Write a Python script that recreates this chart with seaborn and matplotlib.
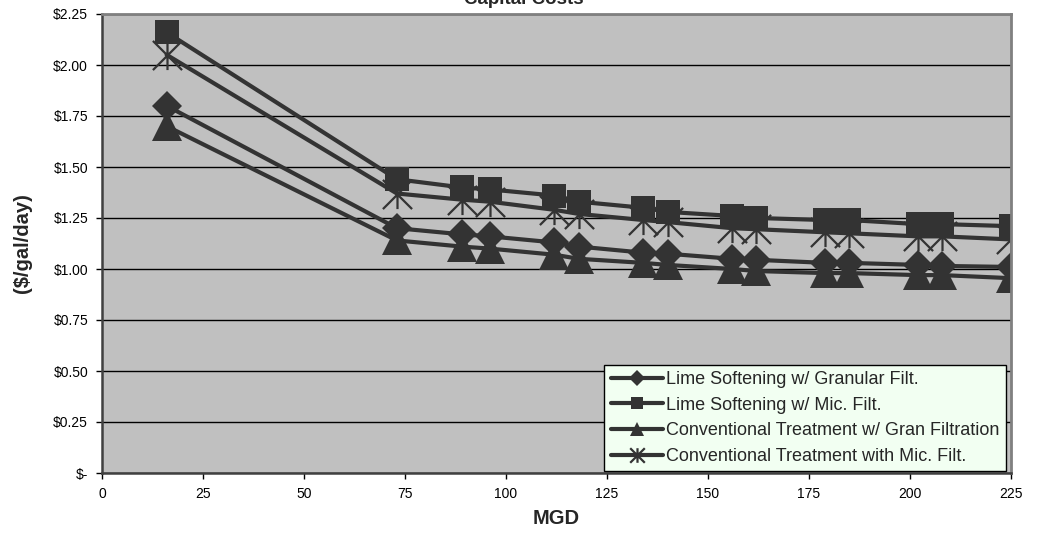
import numpy as np
import pandas as pd
import matplotlib
matplotlib.use("Agg")
import matplotlib.pyplot as plt
from matplotlib.path import Path
import seaborn as sns

# --- DATA ---
MGD = [16, 73, 89, 96, 112, 118, 134, 140, 156, 162, 179, 185, 202, 208, 225]

LIME_GRAN = [1.80, 1.20, 1.17, 1.16, 1.13, 1.11, 1.08, 1.075, 1.05, 1.045, 1.03, 1.03, 1.02, 1.015, 1.01]
LIME_MIC = [2.16, 1.44, 1.40, 1.39, 1.36, 1.33, 1.30, 1.28, 1.26, 1.25, 1.24, 1.24, 1.22, 1.22, 1.21]
CONV_GRAN = [1.70, 1.14, 1.11, 1.10, 1.07, 1.05, 1.03, 1.02, 1.00, 0.99, 0.98, 0.98, 0.97, 0.97, 0.955]
CONV_MIC = [2.05, 1.37, 1.34, 1.33, 1.29, 1.27, 1.24, 1.23, 1.20, 1.195, 1.18, 1.175, 1.16, 1.16, 1.145]

SERIES_NAMES = [
    "Lime Softening w/ Granular Filt.",
    "Lime Softening w/ Mic. Filt.",
    "Conventional Treatment w/ Gran Filtration",
    "Conventional Treatment with Mic. Filt.",
]

Y_TICKS = [0, 0.25, 0.5, 0.75, 1.0, 1.25, 1.5, 1.75, 2.0, 2.25]
Y_TICK_LABELS = ["$-", "$0.25", "$0.50", "$0.75", "$1.00", "$1.25", "$1.50", "$1.75", "$2.00", "$2.25"]
X_TICKS = [0, 25, 50, 75, 100, 125, 150, 175, 200, 225]

TITLE = "Capital Costs"
X_LABEL = "MGD"
Y_LABEL = "($/gal/day)"

# --- STYLE ---
sns.set_style("ticks")
plt.rcParams["font.family"] = ["Liberation Sans", "DejaVu Sans"]
plt.rcParams["text.parse_math"] = False

LINE_COLOR = "#333333"
PLOT_BG = "#c0c0c0"

# Excel-style asterisk: an X plus a vertical bar
asterisk = Path(
    [(-1, -1), (1, 1), (-1, 1), (1, -1), (0, -1), (0, 1)],
    [Path.MOVETO, Path.LINETO, Path.MOVETO, Path.LINETO, Path.MOVETO, Path.LINETO],
)
marker_styles = {
    SERIES_NAMES[0]: dict(marker="D", markersize=15.5, markeredgewidth=0),
    SERIES_NAMES[1]: dict(marker="s", markersize=17, markeredgewidth=0),
    SERIES_NAMES[2]: dict(marker="^", markersize=21, markeredgewidth=0),
    SERIES_NAMES[3]: dict(marker=asterisk, markersize=21, markeredgewidth=1.6),
}

df = pd.DataFrame({
    "MGD": MGD * 4,
    "cost": LIME_GRAN + LIME_MIC + CONV_GRAN + CONV_MIC,
    "series": np.repeat(SERIES_NAMES, len(MGD)),
})

fig = plt.figure(figsize=(10.37, 5.35), dpi=100)
ax = fig.add_axes([102 / 1037, 1 - 473 / 535, 909 / 1037, 459 / 535])
ax.set_facecolor(PLOT_BG)

for name in SERIES_NAMES:
    sub = df[df["series"] == name]
    sns.lineplot(
        data=sub, x="MGD", y="cost", ax=ax, label=name,
        color=LINE_COLOR, linewidth=3.0,
        markerfacecolor=LINE_COLOR, markeredgecolor=LINE_COLOR,
        **marker_styles[name],
    )

ax.set_xlim(0, 225)
ax.set_ylim(0, 2.25)
ax.set_xticks(X_TICKS)
ax.set_xticklabels([str(t) for t in X_TICKS])
ax.set_yticks(Y_TICKS)
ax.set_yticklabels(Y_TICK_LABELS)
ax.tick_params(axis="both", direction="out", length=4, width=1, colors="black",
               labelsize=10, pad=6)

ax.yaxis.grid(True, color="black", linewidth=1)
ax.xaxis.grid(False)
ax.set_axisbelow(True)

for side in ["left", "bottom"]:
    ax.spines[side].set_color("#404040")
    ax.spines[side].set_linewidth(1.8)
for side in ["top", "right"]:
    ax.spines[side].set_visible(True)
    ax.spines[side].set_color("#808080")
    ax.spines[side].set_linewidth(2)

ax.set_xlabel(X_LABEL, fontsize=14.5, fontweight="bold", labelpad=6)
ax.set_ylabel(Y_LABEL, fontsize=14.5, fontweight="bold", labelpad=15)

# title sits mostly above the canvas, as in the original export
fig.text(0.505, 1 - 4 / 535, TITLE, ha="center", va="baseline",
         fontsize=13.5, fontweight="bold")

leg = ax.legend(
    loc="lower right", bbox_to_anchor=(0.994, 0.004), borderaxespad=0,
    fontsize=13.0, frameon=True, fancybox=False, framealpha=1,
    facecolor="#f2fff2", edgecolor="black", markerscale=0.5,
    handlelength=2.9, handletextpad=0.15, labelspacing=0.48,
    borderpad=0.35,
)
leg.get_frame().set_linewidth(1)

fig.savefig("out.png", dpi=100)
